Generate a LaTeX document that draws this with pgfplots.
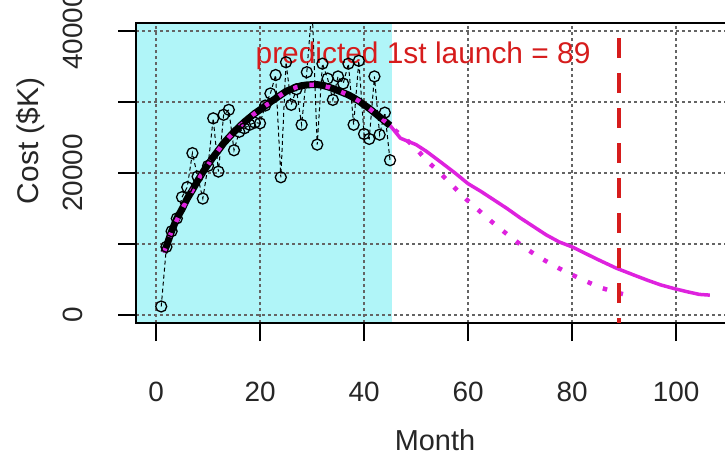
\documentclass[border=0pt]{standalone}
\usepackage{pgfplots}
\pgfplotsset{compat=1.18}
\usepackage{fontspec}
\setmainfont{Liberation Sans}
\definecolor{cyanbg}{RGB}{176,245,248}
\definecolor{mag}{RGB}{222,34,222}
\definecolor{rred}{RGB}{214,28,28}
\definecolor{gridgray}{RGB}{100,100,100}
\begin{document}
\begin{tikzpicture}
\begin{axis}[
  at={(136bp,-323bp)}, anchor=south west,
  scale only axis, width=598bp, height=300bp,
  xmin=-3.85, xmax=111.15, ymin=-1127, ymax=41127,
  scaled y ticks=false, scaled x ticks=false,
  set layers=standard,
  axis line style={line width=1.3bp},
  tick align=outside, xtick pos=left, ytick pos=left,
  major tick length=18bp,
  tick style={line width=1.3bp, black},
  xtick={0,20,40,60,80,100},
  ytick={0,10000,20000,30000,40000},
  xticklabels={0,20,40,60,80,100},
  yticklabels={0,,20000,,40000},
  grid=major,
  major grid style={gridgray, line width=1.2bp, dash pattern=on 3bp off 3bp},
  ticklabel style={font=\fontsize{28}{30}\selectfont, inner sep=0pt, text=black!85},
  xticklabel style={anchor=base},
  xticklabel shift=60bp,
  yticklabel style={rotate=90, anchor=base},
  yticklabel shift=36bp,
  xlabel={Month},
  xlabel style={at={(axis description cs:0.5,0)}, anchor=base, yshift=-127bp, inner sep=0pt, font=\fontsize{29}{31}\selectfont, text=black!85},
  ylabel={Cost (\$K)},
  ylabel style={at={(axis description cs:0,0.607)}, anchor=base, yshift=98bp, inner sep=0pt, font=\fontsize{30}{32}\selectfont, text=black!85},
]
% shaded region (observed period)
\addplot[fill=cyanbg, draw=none, on layer=axis background] coordinates {(-3.85,-1127) (45.3,-1127) (45.3,41127) (-3.85,41127)} -- cycle;

% magenta solid: prediction
\addplot[mag, line width=3.5bp, line join=round] coordinates {
(1.5,8800) (3,11800) (5,14900) (8,19000) (12,23200) (16,26600) (20,28900) (25,31500) (30,32450) (35,31600) (40,29600) (45,26700)
(46,25800) (47,24900) (48.5,24450) (50,24000) (52,23050) (55,21400) (57.5,20000) (60,18500) (62.5,17400) (65,16200) (67.5,15000) (70,13700) (72.5,12500) (75,11300) (77.5,10300) (80,9600) (82.5,8700) (85,7800) (88.5,6600) (92,5600) (94.5,4900) (97,4250) (99.5,3750) (102,3300) (104.5,2900) (106.5,2800)};

% observed data
\addplot[black, line width=1bp, dash pattern=on 4bp off 3bp, mark=o, mark size=5.5bp, mark options={solid, line width=1.3bp}] coordinates {
(1,1200) (2,9600) (3,11800) (4,13600) (5,16600) (6,18000) (7,22800) (8,19500) (9,16400) (10,21000)
(11,27700) (12,20200) (13,28200) (14,28900) (15,23200) (16,25800) (17,26300) (18,26800) (19,27100) (20,27000)
(21,29500) (22,31200) (23,33800) (24,19400) (25,35600) (26,29600) (27,31800) (28,26800) (29,34200) (30,43500)
(31,24000) (32,35400) (33,33300) (34,30300) (35,33600) (36,32600) (37,35400) (38,26800) (39,35800) (40,25500)
(41,24800) (42,33600) (43,25400) (44,28500) (45,21800)};

% black fitted curve
\addplot[black, line width=7bp, line join=round] coordinates {
(1.5,8800) (2,9700) (3,11800) (4,13600) (5,14900) (6,16400) (7,17600) (8,18900) (9,20100) (10,21200)
(11,22250) (12,23200) (13,24200) (14,25000) (15,25800) (16,26500) (17,27200) (18,27800) (19,28400) (20,28900)
(21,29450) (22,30000) (23,30500) (24,31000) (25,31500) (26,31800) (27,32100) (28,32300) (29,32400) (30,32450)
(31,32450) (32,32350) (33,32150) (34,31900) (35,31600) (36,31300) (37,31000) (38,30600) (39,30150) (40,29600)
(41,29100) (42,28500) (43,27900) (44,27300) (45,26700)};

% magenta dotted: alternative prediction
\addplot[mag, line width=4.5bp, dash pattern=on 4.5bp off 12bp] coordinates {
(1.5,8800) (3,11800) (5,14900) (7,17600) (9,20100) (11,22250) (13,24200) (15,25800) (17,27200) (19,28400)
(21,29450) (23,30500) (25,31500) (27,32100) (29,32400) (31,32450) (33,32150) (35,31600) (37,31000) (39,30150)
(41,29100) (43,27900) (45,26700) (46,26000) (48,24800) (50,23470) (52.1,21700) (54.5,20100) (56.7,18450) (59.6,16340)
(62.2,14650) (64.7,13050) (67.3,11500) (70.2,9860) (73,8450) (75.9,7200) (79.1,5960) (81.9,5030) (85.1,3950) (88,3280) (91.2,2680)};

% predicted launch month
\addplot[rred, line width=4bp, dash pattern=on 20bp off 15bp, dash phase=20bp] coordinates {(89,41127) (89,-1127)};

\node[anchor=base, text=rred, inner sep=0pt, font=\fontsize{30}{32}\selectfont] at (axis cs:51.35,35490) {predicted 1st launch = 89};
\end{axis}
\pgfresetboundingbox
\useasboundingbox (0,0) rectangle (725bp,-456bp);
\end{tikzpicture}
\end{document}
